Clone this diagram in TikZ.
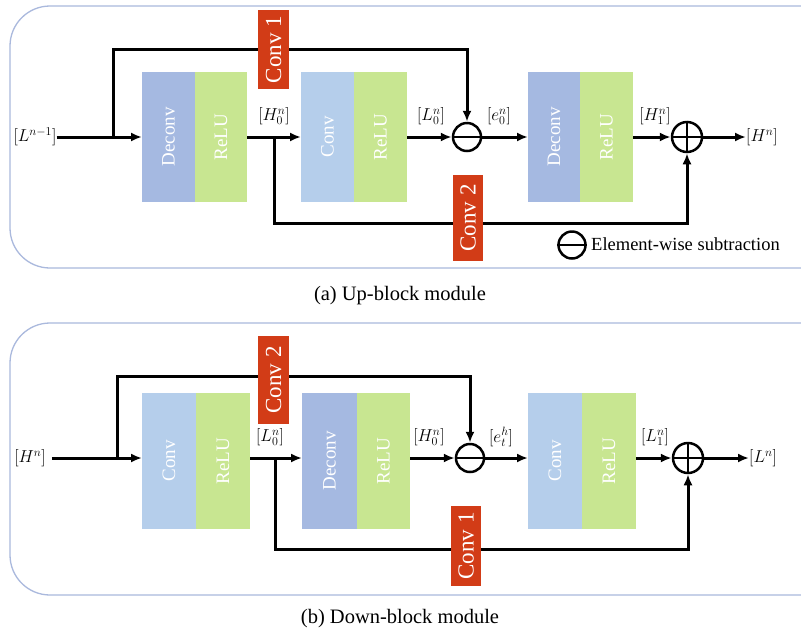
\documentclass[tikz,border=0pt]{standalone}
\usepackage{fontspec}
\setmainfont{Liberation Serif}
\usetikzlibrary{arrows.meta}
\definecolor{dcblue}{HTML}{A5B9E1}
\definecolor{cvblue}{HTML}{B5CEEB}
\definecolor{rlgreen}{HTML}{C8E691}
\definecolor{cred}{HTML}{D23C17}
\definecolor{frame}{HTML}{AAB9DD}
\begin{document}
\begin{tikzpicture}[x=1pt,y=-1pt,
  blk/.style={draw=none,minimum width=#1,inner sep=0pt,outer sep=0pt,text=white,font=\fontsize{19}{22}\selectfont},
  blk/.default=53,
  deconvbox/.style={blk,fill=dcblue,minimum height=130},
  convbox/.style={blk,fill=cvblue,minimum height=130},
  relubox/.style={blk,fill=rlgreen,minimum height=130},
  redbox/.style={fill=cred,draw=none,inner sep=0pt,minimum width=31,text=white,font=\fontsize{23}{25}\selectfont},
  lbl/.style={inner sep=0pt,font=\fontsize{18.5}{21}\selectfont},
  op/.style={circle,draw=black,line width=2.5pt,minimum size=28,inner sep=0pt},
  conn/.style={line width=3pt,-{Latex[length=11pt,width=9pt]}},
  panel/.style={draw=frame,line width=1.3pt,rounded corners=40},
  capt/.style={font=\fontsize{20.5}{24}\selectfont}
]
\useasboundingbox (0,0) rectangle (801,633);
\clip (0,0) rectangle (801,633);
\fill[white] (0,0) rectangle (801,633);

% ---------- panel (a) ----------
\draw[panel] (10,6) rectangle (840,268);
\node[deconvbox,minimum width=53] (dA1) at (168.5,137) {\rotatebox{90}{Deconv}};
\node[relubox,minimum width=52] (rA1) at (221,137) {\rotatebox{90}{ReLU}};
\node[convbox,minimum width=53] (cA2) at (327.5,137) {\rotatebox{90}{Conv}};
\node[relubox,minimum width=53] (rA2) at (380.5,137) {\rotatebox{90}{ReLU}};
\node[deconvbox,minimum width=52] (dA3) at (554,137) {\rotatebox{90}{Deconv}};
\node[relubox,minimum width=53] (rA3) at (606.5,137) {\rotatebox{90}{ReLU}};
\node[op] (subA) at (467,137) {};
\draw[line width=2.5pt] (subA.west) -- (subA.east);
\node[op,minimum size=30] (addA) at (687,137) {};
\draw[line width=2.5pt] (addA.west) -- (addA.east) (addA.north) -- (addA.south);

\node[lbl] (inA) at (35,137) {$[L^{n-1}]$};
\node[lbl,anchor=west] (outA) at (746,137) {$[H^{n}]$};
\node[lbl] (hA0) at (274,116) {$[H^{n}_{0}]$};
\node[lbl] (lA0) at (431,116) {$[L^{n}_{0}]$};
\node[lbl] (eA0) at (499,116) {$[e^{n}_{0}]$};
\node[lbl] (hA1) at (655,116) {$[H^{n}_{1}]$};

\coordinate (brA) at (113,137);
\coordinate (brA2) at (274,137);
\draw[conn] (inA.east) -- (dA1.west);
\draw[conn] (brA) |- (467,49) -- (subA.north);
\draw[conn] (rA1.east) -- (cA2.west);
\draw[conn] (rA2.east) -- (subA.west);
\draw[conn] (subA.east) -- (dA3.west);
\draw[conn] (rA3.east) -- (addA.west);
\draw[conn] (addA.east) -- (outA.west);
\draw[conn] (brA2) |- (687,223) -- (addA.south);

\node[redbox,minimum height=79] (c1A) at (273.5,49.5) {\rotatebox{90}{Conv 1}};
\node[redbox,minimum height=86,minimum width=30] (c2A) at (468,218) {\rotatebox{90}{Conv 2}};

\node[op,minimum size=27] (legA) at (572,245) {};
\draw[line width=2.5pt] (legA.west) -- (legA.east);
\node[anchor=west,inner sep=0pt,font=\fontsize{18.5}{20}\selectfont] (legT) at (591,244) {Element-wise subtraction};

\node[capt] (capA) at (400,296) {(a) Up-block module};

% ---------- panel (b) ----------
\draw[panel] (10,323) rectangle (840,595);
\node[convbox,minimum width=54,minimum height=136] (cB1) at (169,461) {\rotatebox{90}{Conv}};
\node[relubox,minimum width=54,minimum height=136] (rB1) at (223,461) {\rotatebox{90}{ReLU}};
\node[deconvbox,minimum width=55,minimum height=136] (dB2) at (329.5,461) {\rotatebox{90}{Deconv}};
\node[relubox,minimum width=53,minimum height=136] (rB2) at (383.5,461) {\rotatebox{90}{ReLU}};
\node[convbox,minimum width=54,minimum height=136] (cB3) at (555,461) {\rotatebox{90}{Conv}};
\node[relubox,minimum width=54,minimum height=136] (rB3) at (609,461) {\rotatebox{90}{ReLU}};
\node[op] (subB) at (470,458) {};
\draw[line width=2.5pt] (subB.west) -- (subB.east);
\node[op,minimum size=30] (addB) at (688,458) {};
\draw[line width=2.5pt] (addB.west) -- (addB.east) (addB.north) -- (addB.south);

\node[lbl] (inB) at (30,458) {$[H^{n}]$};
\node[lbl,anchor=west] (outB) at (749,458) {$[L^{n}]$};
\node[lbl] (lB0) at (270,437) {$[L^{n}_{0}]$};
\node[lbl] (hB0) at (429,437) {$[H^{n}_{0}]$};
\node[lbl] (eB0) at (501,437) {$[e^{h}_{t}]$};
\node[lbl] (lB1) at (655,437) {$[L^{n}_{1}]$};

\coordinate (brB) at (117,458);
\coordinate (brB2) at (275,458);
\draw[conn] ([xshift=6pt]inB.east) -- (cB1.west|-brB);
\draw[conn] (brB) |- (470,376) -- (subB.north);
\draw[conn] (rB1.east|-brB) -- (dB2.west|-brB);
\draw[conn] (rB2.east|-brB) -- (subB.west);
\draw[conn] (subB.east) -- (cB3.west|-brB);
\draw[conn] (rB3.east|-brB) -- (addB.west);
\draw[conn] (addB.east) -- (outB.west);
\draw[conn] (brB2) |- (688,549) -- (addB.south);

\node[redbox,minimum height=88] (c2B) at (273.5,380) {\rotatebox{90}{Conv 2}};
\node[redbox,minimum height=80,minimum width=30] (c1B) at (466,546) {\rotatebox{90}{Conv 1}};

\node[capt] (capB) at (400,619) {(b) Down-block module};
\end{tikzpicture}
\end{document}
